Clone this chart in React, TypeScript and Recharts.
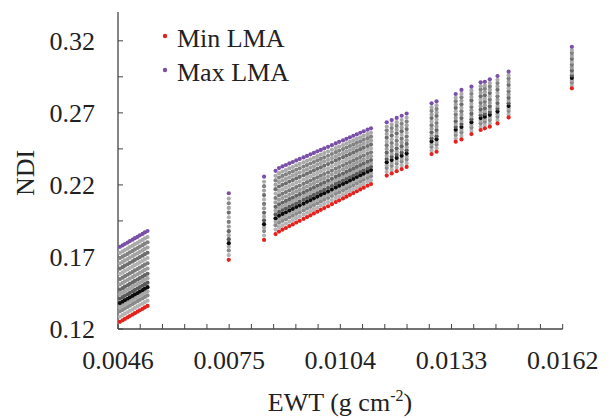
import React from "react";
import { ReferenceLine, Scatter, ScatterChart, XAxis, YAxis } from "recharts";

// one entry per simulated EWT column (g cm-2)
const ewt = [
  0.00465, 0.00472, 0.00478, 0.00485, 0.00491, 0.00498, 0.00504, 0.00511, 0.00517, 0.00524, 0.0053, 0.00537,
  0.00749, 0.00841, 0.00871,
  0.0088, 0.00889, 0.00898, 0.00907, 0.00916, 0.00925, 0.00934, 0.00944, 0.00953, 0.00962, 0.00971, 0.0098,
  0.00989, 0.00998, 0.01008, 0.01018, 0.01028, 0.01037, 0.01047, 0.01056, 0.01065, 0.01074, 0.01083, 0.01092,
  0.01101, 0.01111, 0.0112,
  0.01161, 0.01174, 0.01187, 0.012, 0.01213,
  0.01278, 0.01291, 0.01341, 0.01356, 0.01382, 0.01406, 0.01417, 0.0143, 0.0145, 0.01479, 0.01644,
];

// NDI at the lowest LMA (red) for each column
const ndiMinLma = [
  0.125, 0.126, 0.127, 0.128, 0.129, 0.13, 0.131, 0.132, 0.133, 0.134, 0.135, 0.136,
  0.168, 0.1818, 0.1859,
  0.1876, 0.1889, 0.1901, 0.1914, 0.1926, 0.1939, 0.1951, 0.1964, 0.1977, 0.1989, 0.2002, 0.2014,
  0.2027, 0.2039, 0.2052, 0.2066, 0.2081, 0.2093, 0.2106, 0.2118, 0.2131, 0.2143, 0.2156, 0.2169,
  0.2181, 0.2194, 0.2206,
  0.2265, 0.228, 0.2295, 0.231, 0.2325,
  0.2414, 0.243, 0.25, 0.2516, 0.2553, 0.2581, 0.2593, 0.2604, 0.2627, 0.2668, 0.287,
];

// NDI at the highest LMA (purple) for each column
const ndiMaxLma = [
  0.177, 0.178, 0.179, 0.18, 0.181, 0.182, 0.183, 0.184, 0.185, 0.186, 0.187, 0.188,
  0.2142, 0.2257, 0.2298,
  0.2317, 0.2328, 0.2338, 0.2349, 0.2359, 0.237, 0.238, 0.2391, 0.2401, 0.2412, 0.2422, 0.2433,
  0.2443, 0.2454, 0.2464, 0.2476, 0.2488, 0.2499, 0.2509, 0.252, 0.253, 0.2541, 0.2551, 0.2562,
  0.2572, 0.2583, 0.2593,
  0.2635, 0.265, 0.2665, 0.268, 0.2695,
  0.2766, 0.278, 0.2831, 0.2859, 0.2882, 0.2912, 0.2916, 0.2933, 0.2956, 0.2986, 0.3159,
];

// where the in-between LMA rows sit inside a column (0 = min LMA, 1 = max LMA)
const lmaRowPosition = [0.07, 0.14, 0.195, 0.25, 0.31, 0.37, 0.43, 0.5, 0.57, 0.64, 0.71, 0.78, 0.85, 0.92];
const lmaRowColor = [
  "#b4b4b4", "#8a8a8a", "#a8a8a8", "#0c0c0c", "#5a5a5a", "#a6a6a6", "#666666",
  "#9c9c9c", "#7a7a7a", "#b0b0b0", "#6e6e6e", "#a2a2a2", "#828282", "#aaaaaa",
];

const xTicks = [
  0.0046, 0.00518, 0.00576, 0.00634, 0.00692, 0.0075, 0.00808, 0.00866, 0.00924, 0.00982, 0.0104,
  0.01098, 0.01156, 0.01214, 0.01272, 0.0133, 0.01388, 0.01446, 0.01504, 0.01562, 0.0162,
];
const xLabels = ["0.0046", "0.0075", "0.0104", "0.0133", "0.0162"];
const yTicks = [0.12, 0.145, 0.17, 0.195, 0.22, 0.245, 0.27, 0.295, 0.32];
const yLabels = ["0.12", "0.17", "0.22", "0.27", "0.32"];

const FONT = "Liberation Serif";
const RED = "#e3221e";
const PURPLE = "#7a4fa8";

const minData = ewt.map((x, i) => ({ x, y: ndiMinLma[i] }));
const maxData = ewt.map((x, i) => ({ x, y: ndiMaxLma[i] }));
const rowData = lmaRowPosition.map((p) =>
  ewt.map((x, i) => ({ x, y: ndiMinLma[i] + p * (ndiMaxLma[i] - ndiMinLma[i]) }))
);

const dot = (color: string) => (props: any) =>
  <circle cx={props.cx} cy={props.cy} r={2.1} fill={color} />;

const fmt = (labels: string[], digits: number) => (v: number) => {
  const s = v.toFixed(digits);
  return labels.includes(s) ? s : "";
};

const tickStyle = { fill: "#222", fontSize: 26, style: { fontFamily: FONT } };

export default function App() {
  return (
    <div style={{ position: "relative", width: 606, height: 410, fontFamily: FONT }}>
      <ScatterChart width={606} height={410} margin={{ top: 4, right: 36, left: 50, bottom: 49 }}>
        <XAxis
          type="number"
          dataKey="x"
          domain={[0.0046, 0.0166]}
          ticks={xTicks}
          interval={0}
          tickFormatter={fmt(xLabels, 4)}
          axisLine={false}
          tickSize={-5}
          tickMargin={27}
          height={40}
          stroke="#444"
          tick={tickStyle}
        />
        <YAxis
          type="number"
          dataKey="y"
          domain={[0.12, 0.34]}
          ticks={yTicks}
          interval={0}
          tickFormatter={fmt(yLabels, 2)}
          width={60}
          tickSize={-5}
          tickMargin={28}
          stroke="#444"
          axisLine={{ stroke: "#444", strokeWidth: 1.3 }}
          tick={tickStyle}
        />
        <ReferenceLine
          segment={[{ x: 0.0046, y: 0.12 }, { x: 0.0162, y: 0.12 }]}
          stroke="#444"
          strokeWidth={1.3}
        />
        {rowData.map((d, i) => (
          <Scatter key={i} data={d} shape={dot(lmaRowColor[i])} isAnimationActive={false} />
        ))}
        <Scatter name="Min LMA" data={minData} shape={dot(RED)} isAnimationActive={false} />
        <Scatter name="Max LMA" data={maxData} shape={dot(PURPLE)} isAnimationActive={false} />
      </ScatterChart>
      <svg
        width={606}
        height={410}
        style={{ position: "absolute", left: 0, top: 0, pointerEvents: "none", fontFamily: FONT }}
        fill="#222"
      >
        <circle cx={157} cy={28} r={2.2} fill={RED} />
        <text x={169} y={38.5} fontSize={26}>Min LMA</text>
        <circle cx={157} cy={62} r={2.2} fill={PURPLE} />
        <text x={169} y={72.5} fontSize={26}>Max LMA</text>
        <text x={332} y={403} fontSize={26} textAnchor="middle">
          EWT (g cm<tspan dy={-10} fontSize={16}>-2</tspan><tspan dy={10}>)</tspan>
        </text>
        <text
          x={17}
          y={165}
          fontSize={26}
          textAnchor="middle"
          dominantBaseline="central"
          transform="rotate(-90 17 165)"
        >
          NDI
        </text>
      </svg>
    </div>
  );
}
